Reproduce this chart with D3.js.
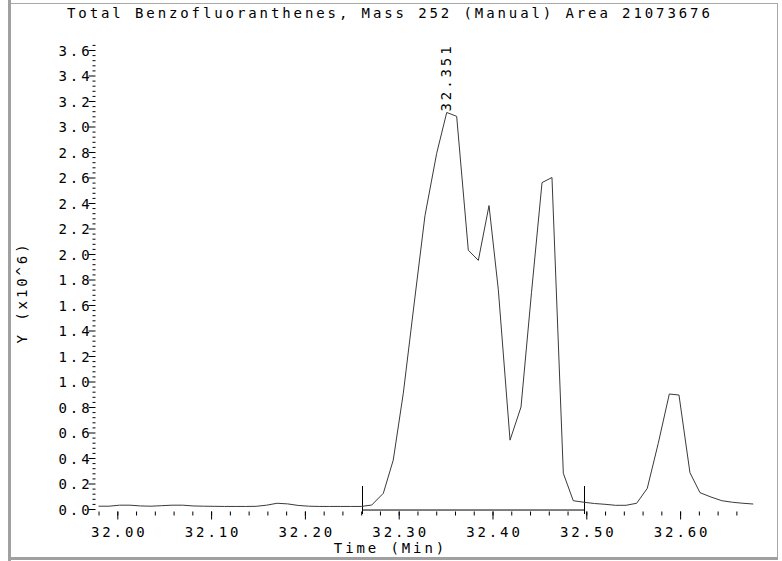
<!DOCTYPE html>
<html>
<head>
<meta charset="utf-8">
<script src="https://cdn.jsdelivr.net/npm/d3@7"></script>
<style>
  html, body { margin: 0; padding: 0; background: #fff; }
  svg { display: block; }
  text { font-family: "DejaVu Sans Mono", "Liberation Mono", monospace; font-size: 14px; fill: #000; }
</style>
</head>
<body>
<svg id="chart" width="782" height="561"></svg>
<script>
// ---------- data ----------
const titleText = "Total Benzofluoranthenes, Mass 252 (Manual) Area 21073676";
const xLabel = "Time (Min)";
const yLabel = "Y (x10^6)";

const times = [
  31.9800, 31.9912, 32.0024, 32.0136, 32.0248, 32.0360, 32.0472, 32.0584, 32.0696, 32.0808,
  32.0920, 32.1032, 32.1144, 32.1256, 32.1368, 32.1480, 32.1592, 32.1704, 32.1816, 32.1928,
  32.2040, 32.2152, 32.2264, 32.2376, 32.2488, 32.2600, 32.2712, 32.2836, 32.2942, 32.3049,
  32.3163, 32.3280, 32.3405, 32.3512, 32.3618, 32.3742, 32.3849, 32.3963, 32.4062, 32.4187,
  32.4304, 32.4416, 32.4528, 32.4634, 32.4755, 32.4861, 32.4975, 32.5087, 32.5199, 32.5311,
  32.5423, 32.5537, 32.5650, 32.5767, 32.5885, 32.5988, 32.6105, 32.6212, 32.6329, 32.6445,
  32.6557, 32.6669, 32.6780
];
const values = [
  0.022, 0.022, 0.030, 0.030, 0.024, 0.022, 0.026, 0.030, 0.030, 0.024,
  0.022, 0.021, 0.020, 0.020, 0.020, 0.021, 0.030, 0.045, 0.040, 0.028,
  0.022, 0.020, 0.020, 0.020, 0.020, 0.020, 0.031, 0.123, 0.384, 0.907,
  1.600, 2.300, 2.790, 3.110, 3.080, 2.030, 1.950, 2.380, 1.720, 0.540,
  0.800, 1.700, 2.560, 2.600, 0.280, 0.065, 0.053, 0.043, 0.037, 0.029,
  0.029, 0.045, 0.162, 0.515, 0.902, 0.894, 0.285, 0.128, 0.094, 0.065,
  0.053, 0.045, 0.039
];

const xMajorTicks = [32.0, 32.1, 32.2, 32.3, 32.4, 32.5, 32.6];
const xTickLabels = ["32.00", "32.10", "32.20", "32.30", "32.40", "32.50", "32.60"];
const xMinorTicks = [31.98, 32.00, 32.02, 32.04, 32.06, 32.08, 32.10, 32.12, 32.14, 32.16, 32.18,
  32.20, 32.22, 32.24, 32.26, 32.28, 32.30, 32.32, 32.34, 32.36, 32.38, 32.40, 32.42, 32.44,
  32.46, 32.48, 32.50, 32.52, 32.54, 32.56, 32.58, 32.60, 32.62, 32.64, 32.66];

const yMajorTicks = [0.0, 0.2, 0.4, 0.6, 0.8, 1.0, 1.2, 1.4, 1.6, 1.8, 2.0, 2.2, 2.4, 2.6, 2.8, 3.0, 3.2, 3.4, 3.6];
const yTickLabels = ["0.0", "0.2", "0.4", "0.6", "0.8", "1.0", "1.2", "1.4", "1.6", "1.8", "2.0",
  "2.2", "2.4", "2.6", "2.8", "3.0", "3.2", "3.4", "3.6"];
const yMinorTicks = [0.04, 0.08, 0.12, 0.16, 0.24, 0.28, 0.32, 0.36, 0.44, 0.48, 0.52, 0.56,
  0.64, 0.68, 0.72, 0.76, 0.84, 0.88, 0.92, 0.96, 1.04, 1.08, 1.12, 1.16, 1.24, 1.28, 1.32, 1.36,
  1.44, 1.48, 1.52, 1.56, 1.64, 1.68, 1.72, 1.76, 1.84, 1.88, 1.92, 1.96, 2.04, 2.08, 2.12, 2.16,
  2.24, 2.28, 2.32, 2.36, 2.44, 2.48, 2.52, 2.56, 2.64, 2.68, 2.72, 2.76, 2.84, 2.88, 2.92, 2.96,
  3.04, 3.08, 3.12, 3.16, 3.24, 3.28, 3.32, 3.36, 3.44, 3.48, 3.52, 3.56, 3.64];

const markerTimes = [32.2612, 32.4979];
const baselineValue = -0.008;
const peakTime = 32.3512;
const peakValue = 3.11;
const peakLabel = "32.351";

// ---------- layout ----------
const LS = 2.9; // letter spacing to mimic the wide instrument font
const svg = d3.select("#chart");

const x = d3.scaleLinear().domain([32.0, 32.6]).range([117.3, 680.1]);
const y = d3.scaleLinear().domain([0, 3.6]).range([509, 50]);

// frame
const frame = svg.append("g");
frame.append("line").attr("x1", 10).attr("x2", 777).attr("y1", 3.5).attr("y2", 3.5)
  .attr("stroke", "#a8a8a8").attr("stroke-width", 1);
frame.append("line").attr("x1", 777.5).attr("x2", 777.5).attr("y1", 3).attr("y2", 558)
  .attr("stroke", "#a8a8a8").attr("stroke-width", 1);
frame.append("rect").attr("x", 8).attr("y", 0).attr("width", 3).attr("height", 561).attr("fill", "#a0a0a0");
frame.append("rect").attr("x", 8).attr("y", 557).attr("width", 770).attr("height", 3).attr("fill", "#a0a0a0");

// title
svg.append("text").attr("x", 67).attr("y", 18).attr("letter-spacing", LS).text(titleText);

// y axis (major + minor)
const yMajor = svg.append("g").attr("transform", "translate(95.5,0)")
  .call(d3.axisLeft(y).tickValues(yMajorTicks).tickSize(7).tickFormat((d, i) => yTickLabels[i]));
const yMinor = svg.append("g").attr("transform", "translate(95.5,0)")
  .call(d3.axisLeft(y).tickValues(yMinorTicks).tickSize(3).tickFormat(""));
[yMajor, yMinor].forEach(g => {
  g.select(".domain").remove();
  g.selectAll(".tick line").attr("stroke", "#000").attr("stroke-width", 1);
  g.attr("font-family", null).attr("font-size", null);
});
yMajor.selectAll(".tick text").attr("x", -3).attr("dy", "0.36em")
  .attr("letter-spacing", LS).attr("fill", "#000");

// x axis (major + minor)
const xMajor = svg.append("g").attr("transform", "translate(0,511.5)")
  .call(d3.axisBottom(x).tickValues(xMajorTicks).tickSize(8).tickFormat((d, i) => xTickLabels[i]));
const xMinor = svg.append("g").attr("transform", "translate(0,511.5)")
  .call(d3.axisBottom(x).tickValues(xMinorTicks).tickSize(4).tickFormat(""));
[xMajor, xMinor].forEach(g => {
  g.select(".domain").remove();
  g.selectAll(".tick line").attr("stroke", "#000").attr("stroke-width", 1);
  g.attr("font-family", null).attr("font-size", null);
});
xMajor.selectAll(".tick text").attr("y", 25.5).attr("dy", 0).attr("dx", LS / 2)
  .attr("letter-spacing", LS).attr("fill", "#000");

// axis titles
svg.append("text").attr("x", 389 + LS / 2).attr("y", 553).attr("text-anchor", "middle")
  .attr("letter-spacing", LS).text(xLabel);
svg.append("text").attr("transform", `translate(27,${291 + LS / 2}) rotate(-90)`)
  .attr("text-anchor", "middle").attr("letter-spacing", LS).text(yLabel);

// integration baseline and markers
svg.append("line")
  .attr("x1", x(markerTimes[0])).attr("x2", x(markerTimes[1]))
  .attr("y1", y(baselineValue)).attr("y2", y(baselineValue))
  .attr("stroke", "#000").attr("stroke-width", 1);
svg.selectAll(".marker").data(markerTimes).enter().append("line")
  .attr("class", "marker")
  .attr("x1", d => Math.round(x(d)) + 0.5).attr("x2", d => Math.round(x(d)) + 0.5)
  .attr("y1", y(0) - 23).attr("y2", y(0) + 5)
  .attr("stroke", "#000").attr("stroke-width", 1);

// trace
const line = d3.line().x((d, i) => x(times[i])).y(d => y(d));
svg.append("path").datum(values).attr("d", line)
  .attr("fill", "none").attr("stroke", "#3a3a3a").attr("stroke-width", 1);

// peak label
svg.append("text")
  .attr("transform", `translate(${x(peakTime) + 4.5},${y(peakValue) - 1}) rotate(-90)`)
  .attr("letter-spacing", LS).text(peakLabel);
</script>
</body>
</html>
